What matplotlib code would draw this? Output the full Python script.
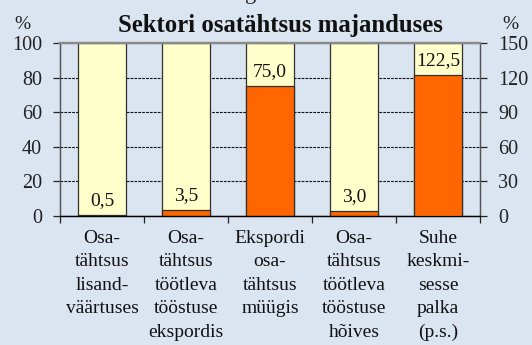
import matplotlib
matplotlib.use("Agg")
import matplotlib.pyplot as plt
import numpy as np

plt.rcParams['font.family'] = ['Liberation Serif', 'DejaVu Serif']

categories = [
    "Osa-\ntähtsus\nlisand-\nväärtuses",
    "Osa-\ntähtsus\ntöötleva\ntööstuse\nekspordis",
    "Ekspordi\nosa-\ntähtsus\nmüügis",
    "Osa-\ntähtsus\ntöötleva\ntööstuse\nhõives",
    "Suhe\nkeskmi-\nsesse\npalka\n(p.s.)",
]
values = [0.5, 3.5, 75.0, 3.0, 122.5]
on_right_axis = [False, False, False, False, True]
value_labels = ["0,5", "3,5", "75,0", "3,0", "122,5"]
left_ticks = [0, 20, 40, 60, 80, 100]
right_ticks = [0, 30, 60, 90, 120, 150]

BG = "#dbe5f1"
YELLOW = "#ffffcc"
ORANGE = "#ff6600"
EDGE = "#303030"

fig = plt.figure(figsize=(5.32, 3.45), dpi=100, facecolor=BG)
ax = fig.add_axes([60/532, 129/345, 420/532, 173/345])
ax.set_facecolor(BG)
ax2 = ax.twinx()

x = np.arange(len(categories))
width = 0.58

ax.set_xlim(-0.5, len(categories) - 0.5)
ax.set_ylim(0, 100)
ax2.set_ylim(0, 150)

# full-height background bars
ax.bar(x, [100] * len(x), width=width, color=YELLOW, edgecolor=EDGE, linewidth=0.9, zorder=2)

for xi, v, right, lab in zip(x, values, on_right_axis, value_labels):
    target = ax2 if right else ax
    target.bar(xi, v, width=width, color=ORANGE, edgecolor=EDGE, linewidth=0.9, zorder=3)
    target.annotate(lab, (xi, v), xytext=(0, 7), textcoords="offset points",
                    ha="center", va="baseline", fontsize=14, color="#111111", zorder=4)

# gridlines
ax.set_yticks(left_ticks)
ax.yaxis.grid(True, linestyle=(0, (2.5, 1)), color="#111111", linewidth=0.8, zorder=1)
ax.set_axisbelow(True)
ax2.set_yticks(right_ticks)

ax.tick_params(axis="y", direction="out", length=5, width=0.9, labelsize=14.5, pad=8, colors="#222222")
ax2.tick_params(axis="y", direction="out", length=5, width=0.9, labelsize=14.5, pad=8, colors="#222222")

ax.set_xticks(x)
ax.set_xticklabels(categories, fontsize=14, linespacing=1.5, color="#111111")
ax.tick_params(axis="x", which="major", length=0, pad=10)
ax.set_xticks(np.arange(-0.5, len(categories), 1.0), minor=True)
ax.tick_params(axis="x", which="minor", direction="out", length=5, width=0.9, color="#222222")

for a in (ax, ax2):
    a.spines["left"].set_color("#555555")
    a.spines["right"].set_color("#555555")
    a.spines["bottom"].set_color("#000000")
    a.spines["top"].set_color("#8a8a8a")
    a.spines["top"].set_linewidth(1.6)
    for s in ("left", "right", "bottom"):
        a.spines[s].set_linewidth(0.9)

fig.text(280/532, 1 - 32/345, "Sektori osatähtsus majanduses", ha="center", va="baseline",
         fontsize=17.8, fontweight="bold", color="#111111")
fig.text(22/532, 1 - 29/345, "%", ha="center", va="baseline", fontsize=14, color="#222222")
fig.text(510/532, 1 - 29/345, "%", ha="center", va="baseline", fontsize=14, color="#222222")
fig.text(251/532, 1 + 1/345, "g", ha="center", va="baseline", fontsize=16, color="#222222")

fig.savefig("out.png", dpi=100, facecolor=BG)
